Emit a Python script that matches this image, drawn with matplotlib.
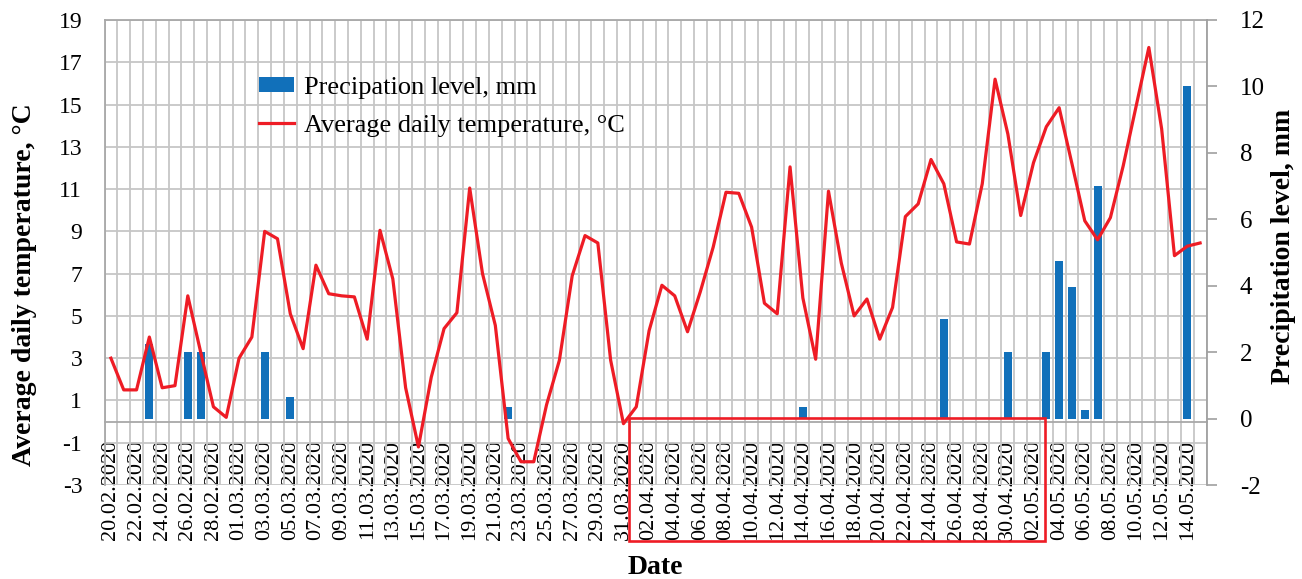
import numpy as np
import pandas as pd
import matplotlib
matplotlib.use("Agg")
import matplotlib.pyplot as plt
import matplotlib.transforms as mtransforms
from matplotlib.patches import Rectangle, Patch
from matplotlib.lines import Line2D

plt.rcParams['font.family'] = ['Liberation Serif', 'DejaVu Serif']
plt.rcParams['axes.unicode_minus'] = False

# daily categories 20.02.2020 .. 15.05.2020
dates = pd.date_range('2020-02-20', '2020-05-15', freq='D').strftime('%d.%m.%Y').tolist()

# average daily temperature, °C
temperature = [
    3.0, 1.5, 1.5, 4.0, 1.6, 1.7, 5.95, 3.3, 0.7, 0.2,
    3.0, 4.0, 9.0, 8.65, 5.1, 3.45, 7.4, 6.05, 5.95, 5.9,
    3.9, 9.05, 6.75, 1.6, -1.2, 2.1, 4.4, 5.15, 11.05, 7.0,
    4.55, -0.8, -1.9, -1.9, 0.8, 2.9, 6.9, 8.8, 8.45, 2.9,
    -0.1, 0.7, 4.3, 6.45, 5.95, 4.25, 6.15, 8.25, 10.85, 10.8,
    9.2, 5.6, 5.1, 12.05, 5.85, 2.95, 10.9, 7.5, 5.0, 5.8,
    3.9, 5.4, 9.7, 10.3, 12.4, 11.25, 8.5, 8.4, 11.25, 16.2,
    13.6, 9.75, 12.25, 13.95, 14.85, 12.2, 9.5, 8.6, 9.65, 12.1,
    14.9, 17.7, 13.85, 7.85, 8.3, 8.45,
]

# precipitation level, mm
precipitation = [0.0] * len(dates)
rain_days = {
    '23.02.2020': 2.25, '26.02.2020': 2.0, '27.02.2020': 2.0, '03.03.2020': 2.0,
    '05.03.2020': 0.65, '22.03.2020': 0.35, '14.04.2020': 0.35, '25.04.2020': 3.0,
    '30.04.2020': 2.0, '03.05.2020': 2.0, '04.05.2020': 4.75, '05.05.2020': 3.95,
    '06.05.2020': 0.25, '07.05.2020': 7.0, '14.05.2020': 10.0,
}
for d, v in rain_days.items():
    precipitation[dates.index(d)] = v

# highlighted period
box_start = '01.04.2020'
box_end = '02.05.2020'

grid_color = '#c6c6c6'
line_color = '#ee1c25'
bar_color = '#1170ba'

x = np.arange(len(dates))

fig = plt.figure(figsize=(13.02, 5.79), dpi=100)
ax = fig.add_axes([104.5 / 1302, 94 / 579, 1102 / 1302, 465 / 579])
ax2 = ax.twinx()

# axis line sits at 0 °C, labels hang below it
ax.spines['bottom'].set_position(('data', 0))

ax.set_xlim(-0.5, len(dates) - 0.5)
ax.set_ylim(-3, 19)
ax2.set_ylim(-2, 12)
ax.set_yticks(range(-3, 20, 2))
ax2.set_yticks(range(-2, 13, 2))

ax.set_xticks(x[::2])
ax.set_xticklabels(dates[::2])
ax.set_xticks(np.arange(-0.5, len(dates)), minor=True)
ax.grid(True, which='minor', axis='x', color=grid_color, lw=1.3)
ax.grid(True, which='major', axis='y', color=grid_color, lw=1.3)
ax.tick_params(axis='x', which='both', length=0, pad=13, labelrotation=90, labelsize=16)
ax.tick_params(axis='y', length=0, pad=16, labelsize=17)

for s in ['left', 'top', 'bottom']:
    ax.spines[s].set_color('#a8a8a8')
    ax.spines[s].set_linewidth(1.3)
ax.spines['right'].set_visible(False)
for s in ['left', 'top', 'bottom']:
    ax2.spines[s].set_visible(False)
ax2.spines['right'].set_color('#a0a0a0')
ax2.spines['right'].set_linewidth(1.3)
ax2.tick_params(axis='y', direction='out', length=7, width=1.2, color='#a0a0a0',
                labelsize=18, pad=17)

# bars on the precipitation axis, line on top using the temperature scale
ax2.bar(x, precipitation, width=0.62, color=bar_color, zorder=2)
ax2.plot(x, temperature, color=line_color, lw=2.3, zorder=3,
         transform=ax.transData, clip_on=False)

# red highlight box around the april labels
trans = mtransforms.blended_transform_factory(ax.transData, ax.transAxes)
x0 = dates.index(box_start) - 0.6
x1 = dates.index(box_end) + 0.9
rect = Rectangle((x0, -0.12), x1 - x0, 0.264, transform=trans, fill=False,
                 edgecolor=line_color, lw=1.9, clip_on=False, zorder=5)
ax2.add_patch(rect)

handles = [Patch(facecolor=bar_color, edgecolor='none'),
           Line2D([], [], color=line_color, lw=2.3)]
ax2.legend(handles, ['Precipation level, mm', 'Average daily temperature, °C'],
           loc='upper left', bbox_to_anchor=(0.131, 0.9), frameon=False,
           fontsize=19, handlelength=1.3, handleheight=0.5, handletextpad=0.4,
           labelspacing=0.6, borderaxespad=0)

fig.text(25 / 1302, 1 - 285 / 579, 'Average daily temperature, °C', rotation=90,
         ha='center', va='center', fontsize=20, fontweight='bold')
fig.text(1283 / 1302, 1 - 246 / 579, 'Precipitation level, mm', rotation=90,
         ha='center', va='center', fontsize=20, fontweight='bold')
fig.text(655 / 1302, 1 - 567 / 579, 'Date', ha='center', va='center',
         fontsize=20, fontweight='bold')

fig.savefig('out.png', dpi=100)
